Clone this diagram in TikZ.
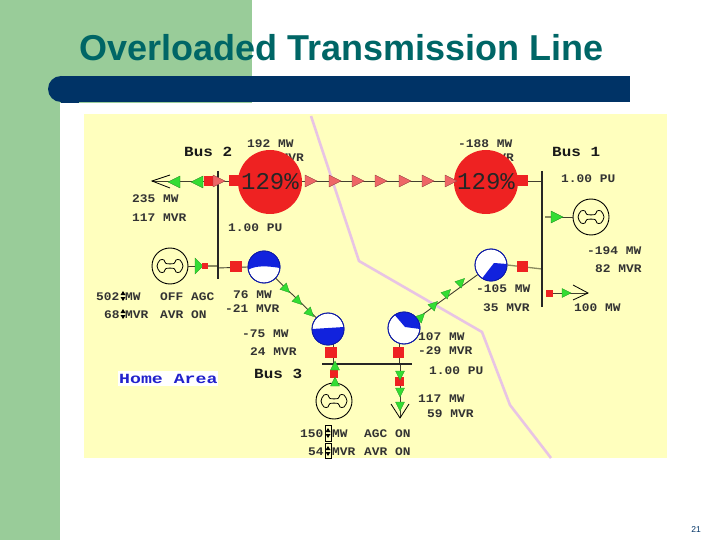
\documentclass[tikz,border=0pt]{standalone}
\usepackage{fontspec}
\setmainfont{Liberation Sans}
\newfontfamily\pwfont[FakeStretch=1.11]{Liberation Mono Bold}
\newfontfamily\pwbold[FakeStretch=1.14]{Liberation Mono Bold}
\newfontfamily\pwwide[FakeStretch=1.3]{Liberation Mono Bold}
\newfontfamily\pctfont{Liberation Mono}
\definecolor{slidegreen}{HTML}{99CC99}
\definecolor{barblue}{HTML}{003366}
\definecolor{titleteal}{HTML}{006666}
\definecolor{paneyellow}{HTML}{FFFFBE}
\definecolor{borderpink}{HTML}{E8C4E4}
\definecolor{flowgreen}{HTML}{33DD33}
\definecolor{flowpink}{HTML}{EE6666}
\definecolor{boxred}{HTML}{EE2222}
\definecolor{pieblue}{HTML}{1122DD}
\definecolor{homeblue}{HTML}{2222CC}
\definecolor{stubtan}{HTML}{8A8A60}
\tikzset{
  lbl/.style={anchor=mid west,yshift=-2pt,inner sep=0pt,font=\fontsize{11.6}{12}\selectfont\pwfont,text=black!80},
  blbl/.style={lbl,font=\fontsize{14}{14}\selectfont\pwbold,text=black!90},
  conn/.style={draw=black!70!olive,line width=0.9pt},
  stub/.style={draw=stubtan,line width=1.3pt},
  busbar/.style={draw=black!85,line width=2.6pt},
  gen/.style={circle,draw=black,line width=0.9pt,minimum size=36pt,inner sep=0pt,fill=paneyellow},
  pie/.style={circle,draw=pieblue!75!black,line width=0.8pt,minimum size=32pt,inner sep=0pt,fill=white},
  redbox/.style={fill=boxred,draw=none,inner sep=0pt,minimum width=#1pt,minimum height=#1pt},
  load/.style={circle,fill=boxred,draw=none,inner sep=0pt,minimum size=64pt},
  pct/.style={inner sep=0pt,font=\fontsize{24}{24}\selectfont\pctfont,text=black!85}
}
\newcommand{\ftri}[4]{\filldraw[fill=#4,draw=#4!60!black,line width=0.3pt,shift={(#1,#2)},rotate=#3] (6,0) -- (-6,6) -- (-6,-6) -- cycle;}
\newcommand{\stri}[4]{\filldraw[fill=#4,draw=#4!70!black,line width=0.3pt,shift={(#1,#2)},rotate=#3] (5,0) -- (-4,4.5) -- (-4,-4.5) -- cycle;}
\newcommand{\genglyph}[1]{\draw[line width=0.8pt,shift={(#1)}] plot[smooth cycle,tension=0.55] coordinates {(-13,0) (-10,-6) (-6,-6) (-4,-2.5) (4,-2.5) (6,-6) (10,-6) (13,0) (10,6) (6,6) (4,2.5) (-4,2.5) (-6,6) (-10,6)};}
\newcommand{\spin}[2]{\fill[black,shift={(#1,#2)}] (-2.5,-1) -- (2.5,-1) -- (0,-5) -- cycle (-2.5,1) -- (2.5,1) -- (0,5) -- cycle;}
\begin{document}
\begin{tikzpicture}[x=1pt,y=-1pt]
\useasboundingbox (0,0) rectangle (720,540);
% slide background
\fill[white] (0,0) rectangle (720,540);
\fill[slidegreen] (0,0) rectangle (60,540);
\fill[slidegreen] (0,0) rectangle (252,103);
\fill[barblue] (61,76) rectangle (630,102);
\fill[barblue] (61,89) circle (13);
\fill[barblue] (61,102) rectangle (79,103);
\node[anchor=base west,inner sep=0pt,font=\fontsize{36}{36}\selectfont\bfseries,text=titleteal] (title) at (79,61) {Overloaded Transmission Line};
\node[anchor=mid,inner sep=0pt,font=\fontsize{8.5}{9}\selectfont,text=barblue] (pagenum) at (696,530) {21};
\fill[paneyellow] (84,114) rectangle (667,458);
% area border
\draw[borderpink,line width=2.6pt] (311,116) -- (359,261) -- (482,332) -- (510,405) -- (551,458);
% coordinates on the buses
\coordinate (b2t) at (218,171); \coordinate (b2b) at (218,279);
\coordinate (b1t) at (542,171); \coordinate (b1b) at (542,307);
\coordinate (b3l) at (322,364); \coordinate (b3r) at (412,364);
\coordinate (l2) at (152,181); \coordinate (b1top) at (542,181);
\coordinate (l1s) at (549,293); \coordinate (l1) at (588,293);
\coordinate (l3s) at (400,364); \coordinate (l3) at (400,418);
% generators and pies
\node[gen] (g2) at (170,266) {};
\node[gen] (g1) at (591,217) {};
\node[gen] (g3) at (334,401) {};
\node[pie] (p1) at (264,267) {};
\node[pie] (p2) at (328,329) {};
\node[pie] (p3) at (404,328) {};
\node[pie] (p4) at (491,265) {};
% connectors
\draw[conn] (l2) -- (b1top);
\draw[conn] (p1) -- (p2);
\draw[conn] (p3) -- (p4);
\draw[conn] (g2.east) -- (200,266);
\draw[stub] (205,266) -- (218,266);
\draw[conn] (218,268) -- (p1.west);
\draw[stub] (p4.east) -- (542,269);
\draw[stub] (545,217) -- (551,217);
\draw[conn] (551,217) -- (g1.west);
\draw[conn] (333,343) -- (333,364);
\draw[conn] (334,364) -- (g3.north);
\draw[conn] (399,343) -- (399,364);
\draw[conn] (l3s) -- (l3);
\draw[conn] (l1s) -- (l1);
% open load arrowheads
\draw[line width=0.8pt] (170,175) -- (l2) -- (170,188);
\draw[line width=0.8pt] (573,285) -- (l1) -- (573,300);
\draw[line width=0.8pt] (391,404) -- (l3) -- (409,404);
% texts behind the load circles
\node[lbl] (t192) at (247,143) {192 MW};
\node[lbl,anchor=mid east] (t192b) at (304,157) {MVR};
\node[lbl] (t188) at (458,143) {-188 MW};
\node[lbl,anchor=mid east] (t188b) at (514,157) {MVR};
% overload circles
\node[load] (c2) at (270,182) {};
\node[load] (c1) at (486,182) {};
% red boxes
\node[redbox=10] (r2a) at (209,181) {};
\node[redbox=11] (r2b) at (234,181) {};
\node[redbox=11] (r1a) at (522,181) {};
\node[redbox=11.5] (r2c) at (236,266.5) {};
\node[redbox=11.5] (r3a) at (331,352.5) {};
\node[redbox=11.5] (r3b) at (398.5,352.5) {};
\node[redbox=8] (r3c) at (334,373.5) {};
\node[redbox=9] (r3d) at (399.5,381.5) {};
\node[redbox=11.5] (r1b) at (522.5,266.5) {};
\node[redbox=7] (r1c) at (549,293) {};
% bus bars
\draw[busbar] (b2t) -- (b2b);
\draw[busbar] (b1t) -- (b1b);
\draw[busbar] (b3l) -- (b3r);
% flow arrows, top line
\foreach \xx in {311,335,358,381,405,428,451} {\ftri{\xx}{181}{0}{flowpink}}
\ftri{219}{181}{0}{flowpink}
\ftri{174}{182}{180}{flowgreen}
\ftri{197}{182}{180}{flowgreen}
% other flows
\filldraw[fill=flowgreen,draw=flowgreen!60!black,line width=0.3pt] (203,266) -- (195,258) -- (195,274) -- cycle;
\node[redbox=6.5] (rg2b) at (205,266) {};
\ftri{557}{217}{0}{flowgreen}
\stri{566}{293}{0}{flowgreen}
\stri{286}{289}{-45}{flowgreen}
\stri{298}{301}{-45}{flowgreen}
\stri{310}{313}{-45}{flowgreen}
\stri{421}{317}{45}{flowgreen}
\stri{434}{305}{45}{flowgreen}
\stri{447}{293}{45}{flowgreen}
\stri{461}{282}{45}{flowgreen}
\stri{335}{366}{90}{flowgreen}
\stri{335}{382}{90}{flowgreen}
\stri{400}{375}{-90}{flowgreen}
\stri{400}{392}{-90}{flowgreen}
\stri{400}{406}{-90}{flowgreen}
% percentages
\node[pct] (pct2) at (270,182) {129\%};
\node[pct] (pct1) at (486,182) {129\%};
% pies
\begin{scope}
\clip (p1.center) circle (16);
\fill[pieblue] (248,270) .. controls (256,265) and (268,266) .. (280,268) -- (280,250) -- (248,250) -- cycle;
\end{scope}
\begin{scope}
\clip (p2.center) circle (16);
\fill[pieblue] (312,329) -- (344,327) -- (344,345) -- (312,345) -- cycle;
\end{scope}
\begin{scope}
\clip (p3.center) circle (16);
\fill[pieblue] (393,313) -- (405,327) -- (420,329) -- (420,312) -- (393,312) -- cycle;
\end{scope}
\begin{scope}
\clip (p4.center) circle (16);
\fill[pieblue] (480,281) -- (494,263) -- (507,264) -- (507,281) -- cycle;
\end{scope}
\foreach \pp in {p1,p2,p3,p4} {\draw[pieblue!75!black,line width=0.8pt] (\pp.center) circle (16);}
% generator glyphs
\genglyph{g2.center}
\genglyph{g1.center}
\genglyph{g3.center}
% labels
\node[blbl] (bus2) at (184,152) {Bus 2};
\node[blbl] (bus1) at (552,152) {Bus 1};
\node[blbl] (bus3) at (254,374) {Bus 3};
\node[lbl] (t235) at (132,198) {235 MW};
\node[lbl] (t117) at (132,217) {117 MVR};
\node[lbl] (pu2) at (228,227) {1.00 PU};
\node[lbl] (pu1) at (561,178) {1.00 PU};
\node[lbl] (pu3) at (429,370) {1.00 PU};
\node[lbl] (t502) at (96,296) {502};
\node[lbl] (t502m) at (125,296) {MW};
\node[lbl] (t68) at (104,314) {68};
\node[lbl] (t68m) at (125,314) {MVR};
\node[lbl] (toff) at (160,296) {OFF AGC};
\node[lbl] (tavr) at (160,314) {AVR ON};
\spin{123}{296}
\spin{123}{314}
\node[lbl] (t76) at (233,294) {76 MW};
\node[lbl] (t21) at (225,308) {-21 MVR};
\node[lbl] (t75) at (242,333) {-75 MW};
\node[lbl] (t24) at (250,351) {24 MVR};
\node[lbl] (t107) at (418,336) {107 MW};
\node[lbl] (t29) at (418,350) {-29 MVR};
\node[lbl] (t117b) at (418,398) {117 MW};
\node[lbl] (t59) at (427,413) {59 MVR};
\node[lbl] (t150) at (300,433) {150};
\node[lbl] (t150m) at (332,433) {MW};
\node[lbl] (t54) at (308,451) {54};
\node[lbl] (t54m) at (332,451) {MVR};
\node[lbl] (tagc) at (364,433) {AGC ON};
\node[lbl] (tavr2) at (364,451) {AVR ON};
\spin{328}{433}
\spin{328}{451}
\draw[black,line width=0.5pt] (325,425.5) rectangle (331,441) (325,443.5) rectangle (331,458);
\node[lbl] (t194) at (587,250) {-194 MW};
\node[lbl] (t82) at (595,268) {82 MVR};
\node[lbl] (t105) at (476,288) {-105 MW};
\node[lbl] (t35) at (483,307) {35 MVR};
\node[lbl] (t100) at (574,307) {100 MW};
\node[blbl,font=\fontsize{14}{14}\selectfont\pwwide,fill=white,inner xsep=1pt,inner ysep=3pt,text=homeblue] (home) at (118,378.5) {Home Area};
\end{tikzpicture}
\end{document}
